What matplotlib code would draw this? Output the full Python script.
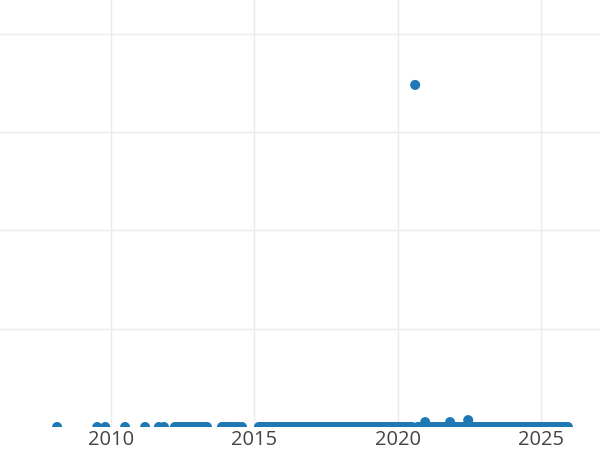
import matplotlib.pyplot as plt
import numpy as np

# 値がほぼ 0 の点（年、小数表記）
zero_years = [
    2008.12, 2009.52, 2009.80, 2010.49, 2011.19, 2011.67, 2011.85,
    2012.23, 2012.31, 2012.42, 2012.50, 2012.61, 2012.70, 2012.79, 2012.90,
    2012.98, 2013.07, 2013.18, 2013.26, 2013.35,
    2013.87, 2013.96, 2014.05, 2014.16, 2014.24, 2014.35, 2014.44, 2014.57,
    2015.16, 2015.25, 2015.33, 2015.44, 2015.52, 2015.61, 2015.72, 2015.80,
    2015.89, 2015.98, 2016.08, 2016.17, 2016.26, 2016.36, 2016.44, 2016.55,
    2016.63, 2016.72, 2016.83, 2016.91, 2017.00, 2017.09, 2017.19, 2017.27,
    2017.38, 2017.46, 2017.55, 2017.66, 2017.74, 2017.83, 2017.93, 2018.02,
    2018.11, 2018.20, 2018.31, 2018.39, 2018.48, 2018.58, 2018.67, 2018.76,
    2018.86, 2018.94, 2019.04, 2019.13, 2019.22, 2019.32, 2019.40, 2019.50,
    2019.59, 2019.68, 2019.78, 2019.86, 2019.95, 2020.05, 2020.14, 2020.23,
    2020.33, 2020.42, 2020.50, 2020.70, 2020.79, 2020.88, 2021.06, 2021.15,
    2021.24, 2021.34, 2021.43, 2021.52, 2021.61, 2021.70, 2021.92, 2022.01,
    2022.10, 2022.20, 2022.29, 2022.37, 2022.56, 2022.65, 2022.74, 2022.83,
    2022.92, 2023.01, 2023.10, 2023.20, 2023.29, 2023.38, 2023.47, 2023.56,
    2023.66, 2023.75, 2023.84, 2023.93, 2024.02, 2024.12, 2024.21, 2024.30,
    2024.39, 2024.48, 2024.58, 2024.67, 2024.76, 2024.85, 2024.94, 2025.04,
    2025.13, 2025.22, 2025.31, 2025.40, 2025.50, 2025.59, 2025.68, 2025.77,
    2025.86, 2025.94,
]

# 0 より大きい点
peak_years = [2020.61, 2020.96, 2021.83, 2022.46]
peak_values = [3.48, 0.05, 0.05, 0.07]

x_ticks = [2010, 2015, 2020, 2025]
y_grid = [1, 2, 3, 4]

color = "#1f77b4"

fig = plt.figure(figsize=(6, 4.5), dpi=100)
ax = fig.add_axes([0, 23 / 450, 1, 427 / 450])

ax.scatter(zero_years, np.zeros(len(zero_years)), s=52, color=color,
           edgecolors="none", zorder=3)
ax.scatter(peak_years, peak_values, s=52, color=color,
           edgecolors="none", zorder=3)

ax.set_xlim(2006.128, 2027.058)
ax.set_ylim(0, 4.344)

ax.set_xticks(x_ticks)
ax.set_xticklabels([str(t) for t in x_ticks], fontfamily="Open Sans",
                   fontsize=14.5, color="#444444")
ax.set_yticks(y_grid)
ax.set_yticklabels([])
ax.tick_params(length=0, pad=2.5)

ax.grid(True, color="#ebebeb", linewidth=1.0)
ax.set_axisbelow(True)
for s in ax.spines.values():
    s.set_visible(False)

fig.savefig("out.png", dpi=100)
